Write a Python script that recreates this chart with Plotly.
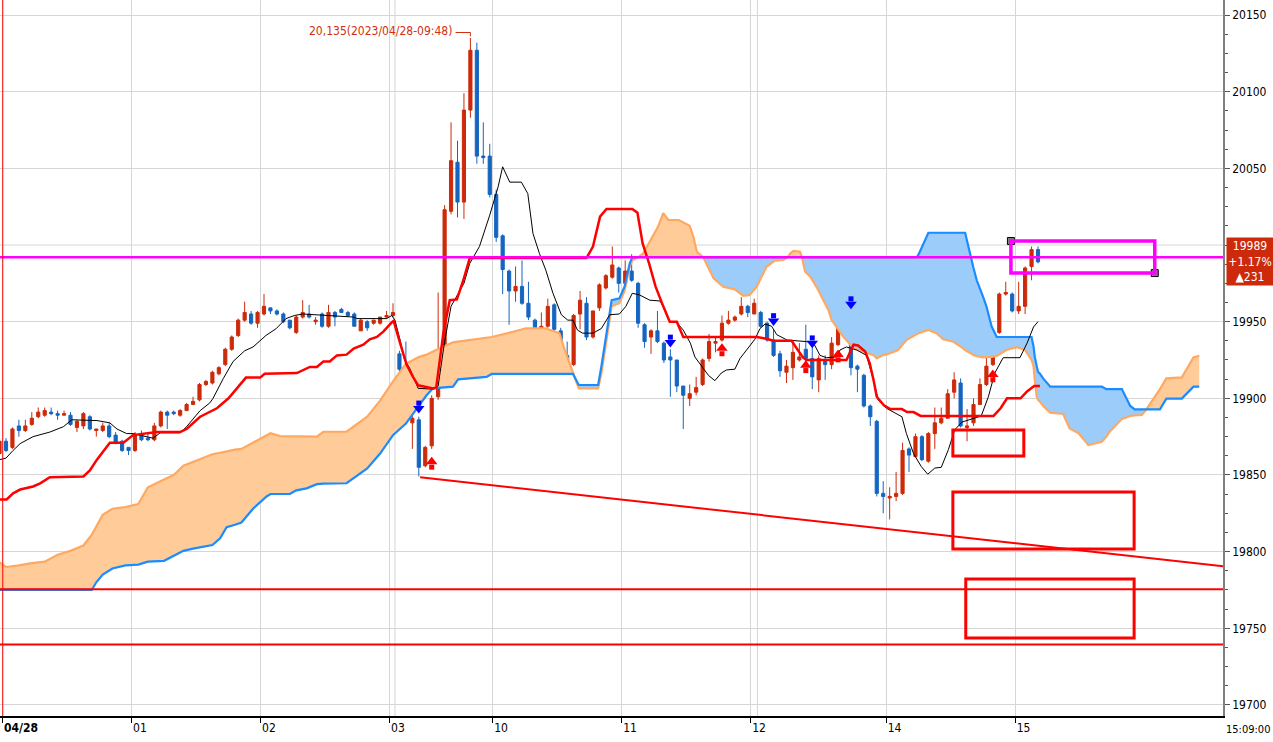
import numpy as np
import plotly.graph_objects as go

# 3-minute bars, x = bar number (0 = first bar after the 04/28 line)
bar = list(range(-1, 161))
opens = [19864, 19872, 19868, 19882, 19879, 19883, 19888, 19889, 19891, 19890,
         19889, 19889, 19881, 19882, 19888, 19879, 19879, 19882, 19876, 19872,
         19868, 19866, 19876, 19874, 19873, 19882, 19891, 19891, 19889, 19892,
         19896, 19899, 19909, 19910, 19916, 19922, 19932, 19941, 19951, 19955,
         19949, 19955, 19959, 19957, 19955, 19951, 19943, 19953, 19955, 19950,
         19955, 19947, 19956, 19958, 19956, 19955, 19944, 19950, 19949, 19949,
         19953, 19954, 19929, 19911, 19884, 19886, 19856, 19869, 19901, 19919,
         20022, 20054, 20028, 20088, 20127, 20058, 20058, 20033, 20006, 19983,
         19970, 19973, 19962, 19951, 19934, 19947, 19961, 19944, 19928, 19922,
         19955, 19962, 19940, 19959, 19972, 19979, 19985, 19975, 19983, 19975,
         19948, 19940, 19944, 19936, 19927, 19925, 19908, 19900, 19904, 19909,
         19926, 19936, 19938, 19949, 19951, 19955, 19960, 19955, 19956, 19949,
         19938, 19929, 19917, 19920, 19925, 19932, 19926, 19912, 19924, 19922,
         19935, 19955, 19957, 19921, 19915, 19895, 19885, 19838, 19835, 19836,
         19838, 19867, 19862, 19875, 19859, 19877, 19884, 19887, 19904, 19910,
         19881, 19884, 19896, 19909, 19922, 19943, 19968, 19968, 19957, 19960,
         19986, 19997]
highs = [19874, 19874, 19881, 19886, 19886, 19891, 19894, 19894, 19894, 19892,
         19892, 19891, 19886, 19891, 19889, 19880, 19884, 19884, 19878, 19873,
         19868, 19878, 19879, 19878, 19884, 19892, 19892, 19892, 19893, 19897,
         19901, 19910, 19912, 19918, 19921, 19933, 19941, 19952, 19963, 19957,
         19957, 19968, 19959, 19958, 19956, 19951, 19954, 19964, 19961, 19953,
         19956, 19961, 19957, 19959, 19957, 19956, 19952, 19951, 19951, 19953,
         19957, 19962, 19931, 19937, 19905, 19888, 19869, 19902, 19969, 20026,
         20080, 20068, 20099, 20135, 20132, 20080, 20066, 20036, 20007, 19984,
         19986, 19990, 19976, 19952, 19956, 19965, 19962, 19946, 19937, 19955,
         19970, 19966, 19957, 19975, 19981, 19999, 19986, 19990, 19994, 19976,
         19949, 19945, 19957, 19937, 19932, 19925, 19908, 19909, 19914, 19926,
         19942, 19940, 19954, 19957, 19954, 19966, 19961, 19965, 19957, 19950,
         19945, 19931, 19925, 19936, 19936, 19948, 19937, 19928, 19928, 19940,
         19958, 19962, 19958, 19922, 19916, 19896, 19886, 19846, 19842, 19852,
         19871, 19868, 19877, 19876, 19878, 19894, 19894, 19906, 19917, 19913,
         19893, 19900, 19913, 19934, 19943, 19969, 19976, 19969, 19976, 19986,
         19999, 19999]
lows = [19862, 19865, 19867, 19875, 19878, 19882, 19887, 19888, 19889, 19886,
        19889, 19882, 19878, 19880, 19879, 19875, 19878, 19874, 19870, 19865,
        19863, 19865, 19872, 19872, 19872, 19881, 19880, 19889, 19888, 19892,
        19896, 19898, 19908, 19909, 19915, 19921, 19931, 19940, 19950, 19948,
        19946, 19954, 19955, 19954, 19949, 19945, 19942, 19952, 19952, 19948,
        19946, 19946, 19947, 19956, 19953, 19947, 19944, 19944, 19948, 19948,
        19952, 19953, 19917, 19883, 19867, 19849, 19855, 19867, 19899, 19914,
        20020, 20018, 20017, 20083, 20053, 20053, 20031, 20002, 19968, 19948,
        19963, 19961, 19951, 19921, 19927, 19946, 19936, 19927, 19919, 19921,
        19945, 19938, 19939, 19957, 19971, 19978, 19969, 19974, 19976, 19946,
        19933, 19929, 19936, 19923, 19901, 19904, 19880, 19895, 19902, 19908,
        19924, 19930, 19937, 19948, 19950, 19954, 19953, 19955, 19946, 19937,
        19927, 19914, 19910, 19912, 19924, 19924, 19906, 19904, 19912, 19919,
        19934, 19948, 19915, 19904, 19894, 19882, 19836, 19825, 19821, 19833,
        19837, 19852, 19862, 19859, 19858, 19867, 19883, 19887, 19900, 19881,
        19872, 19882, 19896, 19908, 19921, 19942, 19967, 19956, 19955, 19955,
        19977, 19988]
closes = [19872, 19866, 19880, 19879, 19882, 19887, 19891, 19892, 19890, 19889,
          19890, 19883, 19885, 19890, 19880, 19880, 19882, 19875, 19871, 19866,
          19866, 19876, 19873, 19873, 19882, 19891, 19889, 19890, 19892, 19896,
          19898, 19909, 19911, 19917, 19920, 19932, 19940, 19951, 19956, 19949,
          19956, 19960, 19957, 19955, 19950, 19946, 19953, 19956, 19953, 19951,
          19947, 19956, 19953, 19956, 19954, 19947, 19951, 19946, 19951, 19953,
          19954, 19956, 19919, 19885, 19887, 19855, 19868, 19900, 19919, 20023,
          20055, 20028, 20088, 20127, 20058, 20057, 20033, 20005, 19984, 19970,
          19973, 19962, 19953, 19935, 19947, 19960, 19945, 19928, 19920, 19954,
          19964, 19940, 19957, 19974, 19980, 19987, 19975, 19983, 19977, 19949,
          19937, 19944, 19937, 19925, 19925, 19908, 19902, 19903, 19907, 19925,
          19937, 19937, 19949, 19951, 19953, 19960, 19956, 19962, 19947, 19938,
          19928, 19918, 19921, 19930, 19927, 19926, 19914, 19926, 19922, 19936,
          19954, 19957, 19920, 19919, 19895, 19888, 19838, 19836, 19836, 19838,
          19866, 19863, 19875, 19860, 19877, 19884, 19887, 19903, 19912, 19882,
          19882, 19896, 19909, 19921, 19942, 19968, 19969, 19957, 19960, 19985,
          19997, 19989]
prev_close = 19758

# Ichimoku lines (bar number, price)
tenkan_x = [-1, 0, 1.1, 2.2, 4.2, 6.8, 8.9, 10.2, 14.1, 16.1, 17.2, 18.7, 19.7, 22.8, 23.9, 27, 28,
            30.1, 31.6, 32.1, 33.7, 35.2, 37, 38.3, 40.3, 41.9, 43.4, 44.7, 46, 48.6, 53.9, 54.4,
            59, 59.8, 60.3, 61.1, 61.8, 62.6, 63.9, 66.2, 67, 68, 69, 71, 71.9, 73.4, 75, 76.3,
            77, 78.1, 79.9, 80.9, 81.7, 82.7, 83.7, 84.8, 86.1, 87.1, 87.9, 88.6, 89.4, 91, 92.3,
            93.6, 95.1, 96.1, 97.1, 98.2, 99.8, 101.4, 102.2, 102.9, 104, 105, 106.1, 106.8,
            107.9, 108.9, 109.9, 110.9, 111.7, 113, 113.8, 114.8, 116.1, 116.9, 117.7, 118.7,
            119.5, 121.1, 122.6, 124.1, 125.2, 126.2, 127.2, 128.8, 129.3, 130.3, 131.9, 133.4,
            134.5, 135.2, 136.5, 138.9, 139.6, 140.7, 141.9, 142.9, 144, 145, 146.1, 147.1,
            148.2, 149.9, 151.2, 152.3, 153.3, 154.6, 157.2, 158.3, 159.3, 160]
tenkan_y = [19860, 19861, 19866, 19870.5, 19875, 19878, 19881.5, 19886, 19885.5, 19884, 19880,
            19877, 19877, 19874, 19877.5, 19877.5, 19881.5, 19892, 19897, 19900, 19913, 19924,
            19931, 19933.5, 19941, 19945.5, 19952, 19954, 19955, 19954.5, 19953, 19952, 19952,
            19954, 19951, 19938, 19925, 19919.5, 19906.5, 19906, 19908, 19937, 19960, 19975,
            19988, 19999, 20019.5, 20038, 20051, 20041, 20041, 20033.5, 20007.5, 19994.5,
            19983.5, 19968.5, 19954.5, 19951, 19951, 19944.5, 19942.5, 19942.5, 19945.5,
            19954.5, 19955, 19960, 19968.5, 19967.5, 19964, 19963.5, 19957.5, 19950, 19949.5,
            19944.5, 19936, 19927, 19920.5, 19915, 19911.5, 19916.5, 19918.5, 19919, 19926,
            19931.5, 19938.5, 19945.5, 19948.5, 19947, 19941.5, 19938, 19937.5, 19937, 19936,
            19928, 19926.5, 19927, 19931.5, 19933.5, 19931.5, 19928, 19912, 19899, 19893.5,
            19888, 19877, 19864, 19855.5, 19850.5, 19854.5, 19855, 19866.5, 19879.5, 19884.5,
            19886.5, 19888.5, 19901, 19916.5, 19926.5, 19926.5, 19936, 19946.5, 19950]

kijun_x = [-1, 0.1, 1.1, 2.2, 4.2, 5.3, 6.8, 12, 13, 14.1, 16.1, 18.2, 19.7, 23.4, 27, 28, 30.1,
           32.7, 34.5, 35.2, 36.8, 37.2, 39.4, 40.1, 45.1, 47.1, 48.2, 49.2, 50.2, 51.3, 52.8,
           53.9, 55.4, 56.4, 57.5, 58.5, 59.8, 60.1, 61.1, 62.1, 63.1, 63.9, 66.2, 66.7, 67.8,
           68.8, 69.9, 70.9, 71.9, 90, 91, 92.1, 93.1, 97.1, 97.9, 98.7, 99.7, 100.7, 101.9,
           102.9, 104, 105, 116.4, 117.7, 119, 121.8, 122.6, 123.6, 124.1, 130.3, 131.4, 132.1,
           133.2, 133.9, 134.5, 135, 136.1, 137.1, 138.9, 139.7, 140.7, 141.8, 153.1, 154.2,
           155.2, 157.3, 158.3, 159.4, 160.3]
kijun_y = [19834, 19834, 19838, 19840.5, 19842.5, 19844.5, 19848.5, 19849, 19853, 19860, 19871,
           19871, 19876, 19878, 19878, 19880, 19888, 19893.5, 19900, 19903.5, 19911, 19913.5,
           19913.5, 19916, 19916.5, 19920.5, 19920.5, 19924, 19924, 19928, 19928.5, 19932.5,
           19935, 19938.5, 19940, 19943.5, 19949.5, 19950.5, 19936, 19922, 19914, 19908.5,
           19906.5, 19907, 19942.5, 19964, 19964.5, 19977, 19991.5, 19991.5, 19999, 20018.5,
           20023.5, 20023.5, 20021, 20001, 19988, 19973, 19960, 19950, 19950, 19940, 19940,
           19939, 19937.5, 19937.5, 19932.5, 19926.5, 19925, 19925, 19935, 19934.5, 19930.5,
           19923, 19912, 19901, 19895.5, 19893, 19893, 19891, 19891, 19888.5, 19888.5, 19893.5,
           19900, 19900, 19904.5, 19908, 19908]

cloud_x = [-1, 0, 2, 4, 6, 8, 10, 12, 13.3, 14, 15, 16.5, 18.5, 20.5, 22, 24.5, 26, 27.5, 29,
           32, 33.2, 34.2, 35.5, 36.5, 38.3, 40.4, 41, 42.5, 44, 45, 46.6, 48.2, 49.2, 52.8, 56,
           58, 60, 62, 64, 65.2, 66.2, 69.3, 70.1, 72, 74.5, 75.3, 78.6, 80.6, 83.7, 85.8, 86.8,
           87.9, 88.8, 91.8, 92.3, 93.1, 93.9, 95.1, 95.9, 96.7, 97.1, 98, 98.8, 100.1, 101.1,
           101.9, 102.7, 104.3, 106, 106.6, 107.1, 108.1, 108.6, 109.7, 111.2, 113, 114.3,
           115.3, 116.4, 117.9, 119.2, 120.5, 121.2, 121.6, 122.1, 123.1, 123.4, 123.9, 124.7,
           125.7, 126.7, 127.5, 128, 129.8, 131.4, 132.9, 134.5, 135, 136, 137.1, 138.3, 139.6,
           141.2, 141.5, 143, 144.3, 145.3, 146.9, 148.4, 148.7, 150, 150.5, 151.5, 152, 152.8,
           153.6, 155.1, 156.7, 158, 159, 159.3, 159.5, 159.8, 160, 160.3, 160.8, 161.9, 163.9,
           164.9, 166.3, 167.8, 169.9, 170.6, 171.1, 172.7, 173, 173.7, 174.3, 175, 176.1,
           176.8, 177.8, 178.9, 179.9, 182.3, 184.1, 185]
span_a = [19793, 19790, 19791, 19792.5, 19793.5, 19798, 19800.5, 19804, 19811, 19816, 19824,
          19828, 19829, 19831, 19842, 19847, 19850, 19856, 19858.5, 19863.5, 19864.5, 19865.5,
          19866.5, 19867, 19871, 19876, 19877.2, 19875.4, 19875.4, 19875.2, 19875, 19875,
          19878.2, 19878.2, 19888, 19898.5, 19911, 19922.5, 19927, 19928.5, 19930.5, 19936.5,
          19937, 19938, 19939.5, 19940, 19943.4, 19945.7, 19945.7, 19942.4, 19929.4, 19916.5,
          19906.5, 19906.5, 19916, 19938, 19960, 19962, 19970, 19986, 19990, 19992, 19994.6,
          20004.4, 20012, 20020.7, 20016.3, 20016.3, 20012.5, 20004.8, 19995.6, 19992, 19988,
          19978.3, 19972.8, 19971.1, 19966.9, 19967.4, 19972.8, 19985.8, 19989.8, 19990.2,
          19992, 19994.6, 19996.1, 19995.6, 19992, 19982.6, 19979.3, 19972.4, 19964.1,
          19957.6, 19951, 19940.2, 19932.6, 19930.4, 19928.2, 19926.1, 19928.2, 19929.4,
          19931.5, 19938, 19942, 19942.5, 19944.6, 19942.4, 19938.5, 19936.9, 19932.6,
          19931.5, 19928.2, 19927.5, 19926.7, 19926.7, 19927, 19927.6, 19931.5, 19933.3,
          19931.5, 19925, 19921, 19912, 19901, 19899, 19897.8, 19895, 19890.6, 19889.8,
          19880.4, 19877.2, 19869.5, 19871.7, 19875, 19878.2, 19885.8, 19886.5, 19887.5,
          19888.5, 19888.8, 19889.1, 19892.8, 19898.9, 19906, 19913, 19913.7, 19926.7, 19927.8]
span_b = [19775, 19775, 19775, 19775, 19775, 19775, 19775, 19775, 19775, 19780, 19785, 19789,
          19791, 19791.5, 19793.5, 19794, 19797, 19800.5, 19802, 19804.3, 19808.7, 19816,
          19817.5, 19819, 19828, 19836, 19837.6, 19837.6, 19837.6, 19840, 19841.3, 19844,
          19844.4, 19844.6, 19854.3, 19864, 19876, 19883.5, 19895, 19902, 19906.5, 19907.6,
          19912.4, 19913, 19914, 19915.9, 19915.9, 19915.9, 19915.9, 19915.9, 19915.9, 19915.9,
          19908.7, 19908.7, 19920.6, 19942.4, 19964, 19965.2, 19972.8, 19988, 19992, 19992,
          19992, 19992, 19992, 19992, 19992, 19992, 19992, 19992, 19992, 19992, 19992, 19992,
          19992, 19992, 19992, 19992, 19992, 19992, 19992, 19992, 19992, 19992, 19992, 19992,
          19992, 19992, 19992, 19992, 19992, 19992, 19992, 19992, 19992, 19992, 19992, 19992,
          19992, 19992, 19992, 19992, 19992, 19994, 20008, 20008, 20008, 20008, 20008, 20008,
          19985, 19977, 19966, 19960, 19947, 19940, 19940, 19940, 19940, 19940, 19934, 19927,
          19921, 19917.4, 19916, 19913, 19907.6, 19907.6, 19907.6, 19907.6, 19907.6, 19907.6,
          19906, 19906, 19906, 19906, 19900, 19895, 19892.8, 19892.8, 19892.8, 19892.8,
          19892.8, 19899.8, 19899.8, 19907.6, 19907.6]

# signal arrows
sell_x = [64, 103, 119, 125, 131]
sell_y = [19895, 19938, 19952, 19937.5, 19963]
buy_x = [66, 111, 124, 129, 153]
buy_y = [19857, 19931, 19920, 19927, 19914]

# hand-drawn objects
magenta_level = 19992
red_levels = [19775.5, 19739.5]
trend_x = [64.2, 188.7]
trend_y = [19848.5, 19790.5]
red_boxes = [(146.8, 157.8, 19862.4, 19879.4),
             (146.8, 174.9, 19801.7, 19838.9),
             (148.8, 174.9, 19743.6, 19782.1)]
magenta_box = (155.8, 178.1, 19981.7, 20002.6)
session_lines = [60.3, 116.5]

tick_pos = [-0.5, 19.5, 39.5, 59.5, 75.5, 95.5, 115.5, 136.5, 156.5]
tick_text = ["<b>04/28</b>", "01", "02", "03", "10", "11", "12", "14", "15"]
price_ticks = [19700, 19750, 19800, 19850, 19900, 19950, 20050, 20100, 20150]

FONT = "Liberation Sans Narrow, DejaVu Sans Condensed, Arial Narrow, sans-serif"
UP = "#CC2A0A"
DOWN = "#1565C0"
GRID = "#D6D6D6"

fig = go.Figure()

# cloud fills: orange where span A is above B, blue where B is above A
a = np.array(span_a)
b = np.array(span_b)
upper = np.maximum(a, b)
fig.add_trace(go.Scatter(x=cloud_x, y=b, mode="lines", line=dict(width=0), hoverinfo="skip"))
fig.add_trace(go.Scatter(x=cloud_x, y=upper, mode="lines", line=dict(width=0), fill="tonexty",
                         fillcolor="#FFCC99", hoverinfo="skip"))
fig.add_trace(go.Scatter(x=cloud_x, y=a, mode="lines", line=dict(width=0), hoverinfo="skip"))
fig.add_trace(go.Scatter(x=cloud_x, y=upper, mode="lines", line=dict(width=0), fill="tonexty",
                         fillcolor="#9CCCFA", hoverinfo="skip"))
fig.add_trace(go.Scatter(x=cloud_x, y=span_a, mode="lines", line=dict(color="#FFA861", width=2.2),
                         hoverinfo="skip"))
fig.add_trace(go.Scatter(x=cloud_x, y=span_b, mode="lines", line=dict(color="#1A8CFF", width=2.2),
                         hoverinfo="skip"))

fig.add_trace(go.Candlestick(
    x=bar, open=opens, high=highs, low=lows, close=closes,
    increasing=dict(line=dict(color=UP, width=1), fillcolor=UP),
    decreasing=dict(line=dict(color=DOWN, width=1), fillcolor=DOWN),
    whiskerwidth=0, hoverinfo="skip"))

fig.add_trace(go.Scatter(x=tenkan_x, y=tenkan_y, mode="lines", line=dict(color="black", width=1),
                         hoverinfo="skip"))
fig.add_trace(go.Scatter(x=kijun_x, y=kijun_y, mode="lines", line=dict(color="#FF0000", width=2.5),
                         hoverinfo="skip"))

# block arrows: a head plus a short shaft
sell_head = [v - 1.6 for v in sell_y]
sell_shaft = [v + 1.9 for v in sell_y]
buy_head = [v + 1.6 for v in buy_y]
buy_shaft = [v - 1.9 for v in buy_y]
fig.add_trace(go.Scatter(x=sell_x, y=sell_shaft, mode="markers",
                         marker=dict(symbol="square", size=5, color="#0000FF"), hoverinfo="skip"))
fig.add_trace(go.Scatter(x=sell_x, y=sell_head, mode="markers",
                         marker=dict(symbol="triangle-down", size=10, color="#0000FF"), hoverinfo="skip"))
fig.add_trace(go.Scatter(x=buy_x, y=buy_shaft, mode="markers",
                         marker=dict(symbol="square", size=5, color="#FF0000"), hoverinfo="skip"))
fig.add_trace(go.Scatter(x=buy_x, y=buy_head, mode="markers",
                         marker=dict(symbol="triangle-up", size=10, color="#FF0000"), hoverinfo="skip"))

# drawings
fig.add_hline(y=magenta_level, line=dict(color="#FF00FF", width=2.5), layer="above")
for lv in red_levels:
    fig.add_hline(y=lv, line=dict(color="#FF0000", width=2), layer="above")
fig.add_shape(type="line", x0=trend_x[0], y0=trend_y[0], x1=trend_x[1], y1=trend_y[1],
              line=dict(color="#FF0000", width=2), layer="above")
for x0, x1, y0, y1 in red_boxes:
    fig.add_shape(type="rect", x0=x0, x1=x1, y0=y0, y1=y1,
                  line=dict(color="#FF0000", width=3), layer="above")
mx0, mx1, my0, my1 = magenta_box
fig.add_shape(type="rect", x0=mx0, x1=mx1, y0=my0, y1=my1,
              line=dict(color="#FF00FF", width=3.5), layer="above")
fig.add_trace(go.Scatter(x=[mx0, mx1], y=[my1, my0], mode="markers",
                         marker=dict(symbol="square", size=7, color="#808080",
                                     line=dict(color="black", width=1)), hoverinfo="skip"))

for sx in session_lines:
    fig.add_vline(x=sx, line=dict(color=GRID, width=1), layer="below")
fig.add_vline(x=tick_pos[0], line=dict(color="#FF0000", width=1), layer="above")

# high marker
hi_i = int(np.argmax(highs))
hb, hv = bar[hi_i], highs[hi_i]
fig.add_trace(go.Scatter(x=[hb - 2.3, hb, hb], y=[hv + 3.6, hv + 3.6, hv + 1.2], mode="lines",
                         line=dict(color="#D03010", width=1), hoverinfo="skip"))
fig.add_annotation(x=hb, y=hv, xref="x", yref="y", text=f"{hv:,}(2023/04/28-09:48)",
                   showarrow=False, xanchor="right", yanchor="middle", xshift=-16, yshift=7,
                   font=dict(color="#D03010", size=12, family=FONT))

# last price box
last = closes[-1]
chg = last - prev_close
fig.add_annotation(x=1, y=last, xref="paper", yref="y",
                   text=f"{last}<br>+{chg / prev_close * 100:.2f}%<br>▲{chg}",
                   showarrow=False, xanchor="left", yanchor="middle", xshift=3,
                   bgcolor=UP, width=44, align="center",
                   font=dict(color="white", size=12, family=FONT))
fig.add_annotation(x=1.04, y=0, xref="paper", yref="paper", text="15:09:00", showarrow=False,
                   xanchor="right", yanchor="top", yshift=-5,
                   font=dict(size=11, family=FONT, color="black"))

fig.update_layout(
    width=1273, height=742,
    margin=dict(l=0, r=50, t=0, b=26),
    paper_bgcolor="white", plot_bgcolor="white",
    showlegend=False, hovermode=False,
    font=dict(family=FONT, size=12, color="black"),
    xaxis=dict(range=[-0.93, 188.68], tickvals=tick_pos, ticktext=tick_text,
               ticks="outside", ticklen=5, tickcolor="black",
               ticklabelposition="outside right",
               showline=True, linecolor="black", linewidth=1.5,
               showgrid=True, gridcolor=GRID, zeroline=False,
               rangeslider=dict(visible=False), tickfont=dict(size=12, family=FONT)),
    yaxis=dict(range=[19692.8, 20159.8], side="right", tickvals=price_ticks, tickformat="d",
               ticks="outside", ticklen=5, tickcolor="#555555",
               showline=True, linecolor="#808080", linewidth=1.5,
               showgrid=True, gridcolor=GRID, zeroline=False,
               minor=dict(dtick=12.5, tick0=19700, ticks="outside", ticklen=3,
                          tickcolor="#555555", showgrid=False),
               tickfont=dict(size=12, family=FONT)),
)
fig.add_hline(y=20000, line=dict(color=GRID, width=1), layer="below")

fig.write_html("out.html", config={"displayModeBar": False},
               post_script="document.body.style.margin='0';document.body.style.overflow='hidden';")
